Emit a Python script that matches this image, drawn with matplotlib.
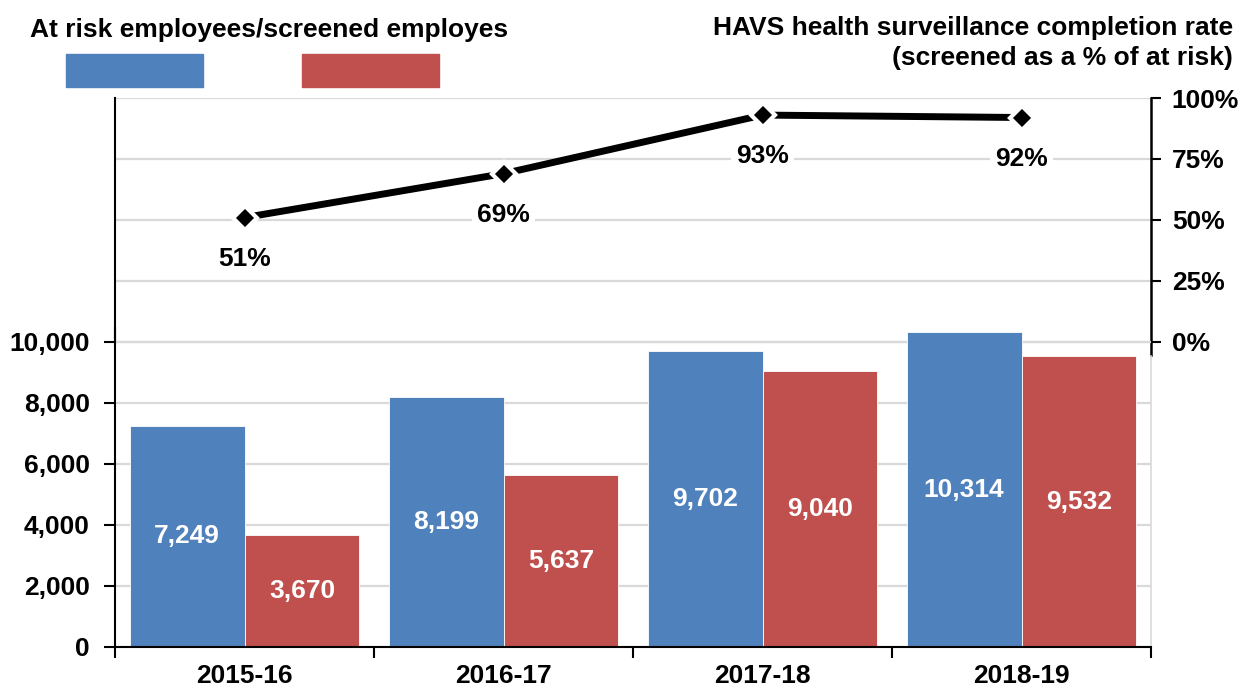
import matplotlib
matplotlib.use("Agg")
import matplotlib.pyplot as plt
import numpy as np
from matplotlib.patches import Rectangle
from matplotlib.ticker import FuncFormatter

# data
years = ['2015-16', '2016-17', '2017-18', '2018-19']
at_risk = [7249, 8199, 9702, 10314]
screened = [3670, 5637, 9040, 9532]
completion = [0.51, 0.69, 0.93, 0.92]

blue = '#4F81BD'
red = '#C0504D'
grid_c = '#D9D9D9'
fs = 19

plt.rcParams['font.family'] = ['Liberation Sans', 'DejaVu Sans']
plt.rcParams['font.weight'] = 'bold'

W, H = 1243, 686
fig = plt.figure(figsize=(W / 100, H / 100), dpi=100)


def px_rect(x0, y0, x1, y1):
    # pixel box (top-left origin) -> figure fraction
    return [x0 / W, 1 - y1 / H, (x1 - x0) / W, (y1 - y0) / H]


x = np.arange(len(years))
bw = 0.444

# line axes (top), drawn first so the bars sit above its gridlines
ax_line = fig.add_axes(px_rect(115, 98, 1151, 355))
ax_line.set_zorder(1)
ax_line.set_xlim(-0.5, len(years) - 0.5)
ax_line.set_ylim(-0.0533, 1.0)
ax_line.yaxis.tick_right()
ax_line.set_yticks([0, 0.25, 0.5, 0.75, 1.0])
ax_line.yaxis.set_major_formatter(FuncFormatter(lambda v, p: f'{v:.0%}'))
ax_line.tick_params(axis='y', direction='out', length=7, width=1.5,
                    labelsize=fs, pad=8)
ax_line.set_xticks([])
for s in ['top', 'bottom']:
    ax_line.spines[s].set_visible(False)
ax_line.spines['left'].set_bounds(0, 1)
ax_line.spines['left'].set_linewidth(1.5)
ax_line.spines['right'].set_linewidth(1.8)
for v in [0, 0.25, 0.5, 0.75, 1.0]:
    ax_line.axhline(v, color=grid_c, lw=1.6, zorder=0)
ax_line.plot(x, completion, color='black', lw=5, marker='D', ms=12,
             mfc='black', mec='white', mew=3, zorder=3)
for xi, v in zip(x, completion):
    ax_line.annotate(f'{v:.0%}', (xi, v), xytext=(0, -41),
                     textcoords='offset pixels', ha='center', va='center',
                     fontsize=fs, fontweight='bold', zorder=4,
                     bbox=dict(facecolor='white', edgecolor='none', pad=4))

# bar axes (bottom)
ax_bar = fig.add_axes(px_rect(115, 328, 1151, 647))
ax_bar.set_zorder(2)
ax_bar.patch.set_alpha(0)
ax_bar.set_xlim(-0.5, len(years) - 0.5)
ax_bar.set_ylim(0, 10459)
ax_bar.set_axisbelow(True)
ax_bar.set_yticks(np.arange(0, 10001, 2000))
ax_bar.yaxis.set_major_formatter(FuncFormatter(lambda v, p: f'{v:,.0f}'))
ax_bar.grid(axis='y', color=grid_c, lw=1.6)
b1 = ax_bar.bar(x - bw / 2, at_risk, bw, color=blue, edgecolor='white', lw=0.6)
b2 = ax_bar.bar(x + bw / 2, screened, bw, color=red, edgecolor='white', lw=0.6)
for bars in (b1, b2):
    ax_bar.bar_label(bars, labels=[f'{v:,.0f}' for v in bars.datavalues],
                     label_type='center', color='white', fontsize=fs,
                     fontweight='bold')
ax_bar.set_xticks(x)
ax_bar.set_xticklabels(years)
ax_bar.set_xticks(np.arange(-0.5, len(years)), minor=True)
ax_bar.tick_params(axis='x', which='major', length=0, labelsize=fs, pad=12)
ax_bar.tick_params(axis='x', which='minor', direction='out', length=8, width=1.5)
ax_bar.tick_params(axis='y', direction='out', length=8, width=1.5,
                   labelsize=fs, pad=10)
ax_bar.spines['top'].set_visible(False)
ax_bar.spines['right'].set_color(grid_c)
ax_bar.spines['right'].set_linewidth(1.2)
ax_bar.spines['right'].set_bounds(0, 9550)
ax_bar.spines['left'].set_linewidth(1.5)
ax_bar.spines['bottom'].set_linewidth(1.5)

# headings and legend swatches
fig.text(30 / W, 1 - 30 / H, 'At risk employees/screened employes',
         ha='left', va='center', fontsize=fs, fontweight='bold')
fig.text(1233 / W, 1 - 43 / H,
         'HAVS health surveillance completion rate\n(screened as a % of at risk)',
         ha='right', va='center', multialignment='right', fontsize=fs,
         fontweight='bold', linespacing=1.32)
fig.patches.append(Rectangle((66 / W, 1 - 87 / H), 137 / W, 33 / H,
                             transform=fig.transFigure, color=blue))
fig.patches.append(Rectangle((302 / W, 1 - 87 / H), 137 / W, 33 / H,
                             transform=fig.transFigure, color=red))

fig.savefig('out.png', dpi=100)
